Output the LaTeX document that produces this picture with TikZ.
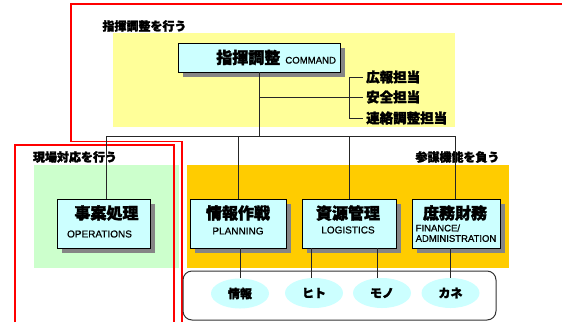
\documentclass[tikz,border=0pt]{standalone}
\usepackage{fontspec}
\newfontfamily\jp[BoldFeatures={FakeBold=2}]{Noto Sans CJK JP}
\newfontfamily\en[FakeBold=0.7]{Liberation Sans}
\usetikzlibrary{shapes.geometric,shadows}
\definecolor{pyellow}{HTML}{FFFF99}
\definecolor{pgreen}{HTML}{CCFFCC}
\definecolor{porange}{HTML}{FFCC00}
\definecolor{pcyan}{HTML}{CCFFFF}
\definecolor{shgray}{HTML}{858585}
\begin{document}
\begin{tikzpicture}[x=1pt,y=-1pt,
  redline/.style={draw=red,line width=1.6pt},
  card/.style={draw=black,line width=0.8pt,fill=pcyan,inner sep=0pt,
    drop shadow={shadow xshift=4.5pt,shadow yshift=-4.5pt,fill=shgray,opacity=1}},
  conn/.style={draw=black!85,line width=0.8pt},
  arealabel/.style={font=\jp\bfseries\fontsize{12}{12}\selectfont,inner sep=0pt},
  sublabel/.style={font=\jp\bfseries\fontsize{13.5}{13.5}\selectfont,inner sep=0pt,anchor=west},
  jptitle/.style={font=\jp\bfseries\fontsize{16}{16}\selectfont,inner sep=0pt},
  entext/.style={font=\en\fontsize{10}{10}\selectfont,inner sep=0pt},
  oval/.style={ellipse,fill=pcyan,draw=none,minimum width=58pt,minimum height=30pt,inner sep=0pt,
    font=\jp\bfseries\fontsize{12}{12}\selectfont},
  pool/.style={draw=black!80,line width=1pt,rounded corners=9pt,fill=white}
]
\useasboundingbox (0,0) rectangle (562,322);
% coloured areas
\fill[pyellow] (113,33) rectangle (455,127);
\fill[pgreen] (34,165) rectangle (179,268);
\fill[porange] (187,165) rectangle (508.5,268);
% red outlines
\draw[redline] (562,4) -- (71,4) -- (71,141.5) -- (182,141.5) -- (182,322);
\draw[redline] (15,322) -- (15,145) -- (174,145) -- (174,322);
% area labels
\node[arealabel] (lblCmd) at (144.5,26) {指揮調整を行う};
\node[arealabel] (lblOps) at (75,157) {現場対応を行う};
\node[arealabel] (lblStaff) at (457.5,157) {参謀機能を負う};
% command box
\node[card,minimum width=162pt,minimum height=29pt,text width=154pt,align=right,inner xsep=4pt] (cmd) at (259,57.5)
  {{\jp\bfseries\fontsize{16}{16}\selectfont 指揮調整}\hspace{5pt}{\en\fontsize{9.6}{10}\selectfont COMMAND}};
% bracket labels
\node[sublabel] (k1) at (366,77) {広報担当};
\node[sublabel] (k2) at (366,97) {安全担当};
\node[sublabel] (k3) at (366,118) {連絡調整担当};
\coordinate (brx) at (349,0);
\coordinate (busL) at (106,136);
\coordinate (busR) at (455,136);
\draw[conn] ([xshift=-3pt]k1.west) -- (k1.west -| brx) -- (k3.west -| brx) -- ([xshift=-3pt]k3.west);
\draw[conn] (cmd.south |- k2.west) -- ([xshift=-3pt]k2.west);
\draw[conn] (cmd.south) -- (cmd.south |- busL);
\draw[conn] (busL) -- (busR);
% pool
\node[pool,minimum width=313pt,minimum height=49pt] (poolbox) at (339.5,295.5) {};
% boxes
\node[card,minimum width=93pt,minimum height=49pt] (ops) at (103.5,223.5) {};
\node[card,minimum width=96pt,minimum height=49pt] (plan) at (238,223.5) {};
\node[card,minimum width=94pt,minimum height=49pt] (log) at (349,223.5) {};
\node[card,minimum width=88pt,minimum height=49pt] (fin) at (456,223.5) {};
\node[jptitle] (opsJ) at (106.5,213) {事案処理};
\node[entext] (opsE) at (99.5,234) {OPERATIONS};
\node[jptitle] (planJ) at (238,213) {情報作戦};
\node[entext] (planE) at (238,231) {PLANNING};
\node[jptitle] (logJ) at (348,213) {資源管理};
\node[entext] (logE) at (348,230) {LOGISTICS};
\node[jptitle] (finJ) at (455,213) {庶務財務};
\node[entext,font=\en\fontsize{9.5}{9.5}\selectfont,anchor=west] (finE1) at (415.5,228) {FINANCE/};
\node[entext,font=\en\fontsize{9.5}{9.5}\selectfont,anchor=west] (finE2) at (415.5,238.5) {ADMINISTRATION};
% drops
\draw[conn] (busL) -- (busL |- ops.north);
\draw[conn] (238,136) -- (plan.north);
\draw[conn] (349,136) -- (log.north);
\draw[conn] (busR) -- (busR |- fin.north);
% ovals
\node[oval] (o1) at (240,293.5) {情報};
\node[oval] (o2) at (314,293) {ヒト};
\node[oval] (o3) at (382,293) {モノ};
\node[oval] (o4) at (450.5,293) {カネ};
\draw[conn] (o1.north |- plan.south) -- (o1.north);
\draw[conn] ([xshift=-3pt]o2.north |- log.south) -- ([xshift=-3pt]o2.north);
\draw[conn] ([xshift=-5pt]o3.north |- log.south) -- ([xshift=-5pt]o3.north);
\draw[conn] (o4.north |- fin.south) -- (o4.north);
\end{tikzpicture}
\end{document}
